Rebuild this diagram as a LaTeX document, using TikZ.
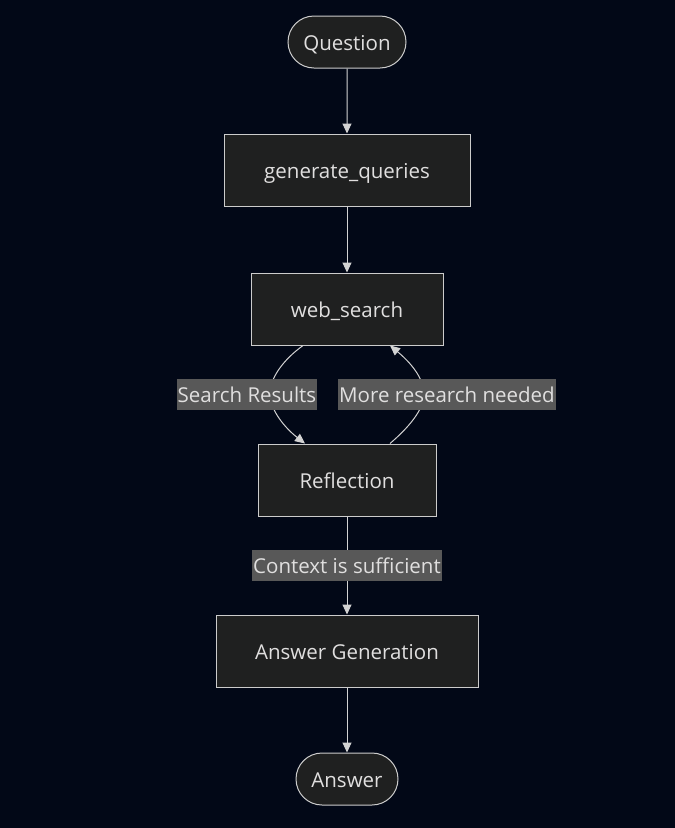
\documentclass[tikz,border=0pt]{standalone}
\usepackage{fontspec}
\setmainfont{Open Sans}
\usetikzlibrary{arrows.meta,shapes.misc}
\definecolor{bg}{RGB}{2,8,23}
\definecolor{nodefill}{RGB}{31,32,32}
\definecolor{nodeline}{RGB}{204,204,204}
\definecolor{txt}{RGB}{224,223,223}
\definecolor{lblfill}{RGB}{88,88,88}
\definecolor{edgecol}{RGB}{211,211,211}
\begin{document}
\begin{tikzpicture}[x=1pt,y=-1pt,
  lbltext/.style={text=txt, font=\fontsize{20.5}{24}\selectfont, text height=19pt, text depth=2pt},
  box/.style={lbltext, draw=nodeline, fill=nodefill, line width=1pt, minimum height=72pt, inner sep=0pt},
  term/.style={lbltext, rounded rectangle, draw=nodeline, fill=nodefill, line width=1pt, minimum height=52pt, inner sep=0pt},
  lbl/.style={lbltext, fill=lblfill, inner xsep=1pt, inner ysep=0pt, minimum height=31pt},
  conn/.style={draw=edgecol, line width=1pt, -{Triangle[length=10pt,width=9pt]}}]
\fill[bg] (0,0) rectangle (675,828);
\useasboundingbox (0,0) rectangle (675,828);

\node[term, minimum width=118pt] (q) at (347,42) {Question};
\node[box, minimum width=246pt] (gq) at (347,170) {generate\_queries};
\node[box, minimum width=192pt] (ws) at (347,309) {web\_search};
\node[box, minimum width=178pt] (refl) at (347,480) {Reflection};
\node[box, minimum width=262pt] (ag) at (347,651) {Answer Generation};
\node[term, minimum width=102pt] (a) at (347,779) {Answer};

\draw[conn] (q) -- (gq);
\draw[conn] (gq) -- (ws);
\draw[conn] ([xshift=-44pt]ws.south) .. controls (283,360) and (270,378) .. (270,394)
  .. controls (270,410) and (285,428) .. ([xshift=-42pt]refl.north);
\draw[conn] ([xshift=43pt]refl.north) .. controls (408,428) and (424,410) .. (424,394)
  .. controls (424,378) and (410,362) .. ([xshift=43pt]ws.south);
\draw[conn] (refl) -- (ag);
\draw[conn] (ag) -- (a);

\node[lbl] (sr) at (247,394) {Search Results};
\node[lbl] (mr) at (447,394) {More research needed};
\node[lbl] (cs) at (347,565) {Context is sufficient};
\end{tikzpicture}
\end{document}
